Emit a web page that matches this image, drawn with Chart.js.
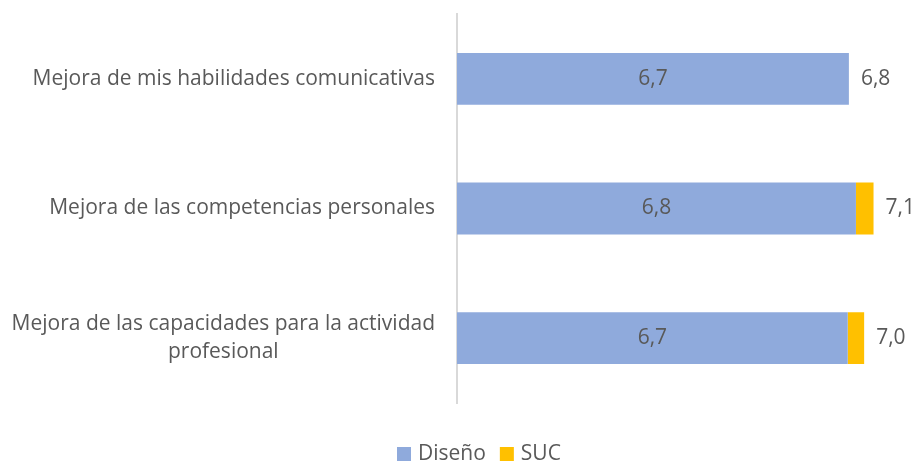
<!DOCTYPE html>
<html>
<head>
<meta charset="utf-8">
<script src="https://cdn.jsdelivr.net/npm/chart.js@4.4.0/dist/chart.umd.min.js"></script>
<style>
  html, body { margin: 0; padding: 0; background: #fff; }
  #wrap { width: 918px; height: 463px; }
</style>
</head>
<body>
<div id="wrap"><canvas id="chart"></canvas></div>
<script>
// Data
const categories = [
  ['Mejora de mis habilidades comunicativas'],
  ['Mejora de las competencias personales'],
  ['Mejora de las capacidades para la actividad', 'profesional']
];
const diseno = [6.68, 6.8, 6.66];      // blue bars (label inside)
const sucExtra = [0, 0.3, 0.28];       // gold part stacked after Diseño
const sucValues = [6.8, 7.1, 7.0];     // SUC values shown at bar end
const seriesNames = ['Diseño', 'SUC'];
const colors = ['#8FAADC', '#FFC000'];

const textColor = '#595959';
const fontFamily = '"Open Sans", Lato, sans-serif';
const fontSize = 21;

const fmt = v => v.toFixed(1).replace('.', ',');

// Category labels: block right aligned, lines centred on each other
const yLabels = {
  id: 'yLabels',
  afterDraw(chart) {
    const ctx = chart.ctx;
    const y = chart.scales.y;
    const right = chart.chartArea.left - 22;
    const lh = 28;
    ctx.save();
    ctx.font = fontSize + 'px ' + fontFamily;
    ctx.fillStyle = textColor;
    ctx.textAlign = 'center';
    ctx.textBaseline = 'middle';
    categories.forEach((lines, i) => {
      const w = Math.max(...lines.map(l => ctx.measureText(l).width));
      const cx = right - w / 2;
      const cy = y.getPixelForValue(i);
      const top = cy - (lines.length - 1) * lh / 2;
      lines.forEach((l, j) => ctx.fillText(l, cx, top + j * lh));
    });
    ctx.restore();
  }
};

// Value labels
const valueLabels = {
  id: 'valueLabels',
  afterDatasetsDraw(chart) {
    const ctx = chart.ctx;
    ctx.save();
    ctx.font = fontSize + 'px ' + fontFamily;
    ctx.fillStyle = textColor;
    ctx.textBaseline = 'middle';
    const m0 = chart.getDatasetMeta(0);
    const m1 = chart.getDatasetMeta(1);
    m0.data.forEach((bar, i) => {
      ctx.textAlign = 'center';
      ctx.fillText(fmt(diseno[i]), (bar.x + bar.base) / 2, bar.y);
    });
    m1.data.forEach((bar, i) => {
      ctx.textAlign = 'left';
      ctx.fillText(fmt(sucValues[i]), bar.x + 12, bar.y);
    });
    ctx.restore();
  }
};

// Legend at the bottom
const bottomLegend = {
  id: 'bottomLegend',
  afterDraw(chart) {
    const ctx = chart.ctx;
    ctx.save();
    ctx.font = fontSize + 'px ' + fontFamily;
    ctx.textBaseline = 'middle';
    ctx.textAlign = 'left';
    let x = 397;
    const cy = 454;
    seriesNames.forEach((name, i) => {
      ctx.fillStyle = colors[i];
      ctx.fillRect(x, cy - 7, 14, 14);
      x += 21;
      ctx.fillStyle = textColor;
      ctx.fillText(name, x, cy);
      x += ctx.measureText(name).width + 14;
    });
    ctx.restore();
  }
};

new Chart(document.getElementById('chart'), {
  type: 'bar',
  data: {
    labels: categories.map(c => c.join(' ')),
    datasets: [
      { label: seriesNames[0], data: diseno, backgroundColor: colors[0], barPercentage: 0.4, categoryPercentage: 1 },
      { label: seriesNames[1], data: sucExtra, backgroundColor: colors[1], barPercentage: 0.4, categoryPercentage: 1 }
    ]
  },
  options: {
    indexAxis: 'y',
    responsive: true,
    maintainAspectRatio: false,
    animation: false,
    layout: { padding: { top: 14, bottom: 60, right: 21, left: 0 } },
    plugins: {
      legend: { display: false },
      tooltip: { enabled: false }
    },
    scales: {
      x: { stacked: true, min: 0, max: 7.5, display: false },
      y: {
        stacked: true,
        ticks: { display: false },
        grid: { display: false },
        border: { display: true, color: '#D9D9D9', width: 2 },
        afterFit(scale) { scale.width = 457; }
      }
    }
  },
  plugins: [yLabels, valueLabels, bottomLegend]
});
</script>
</body>
</html>
